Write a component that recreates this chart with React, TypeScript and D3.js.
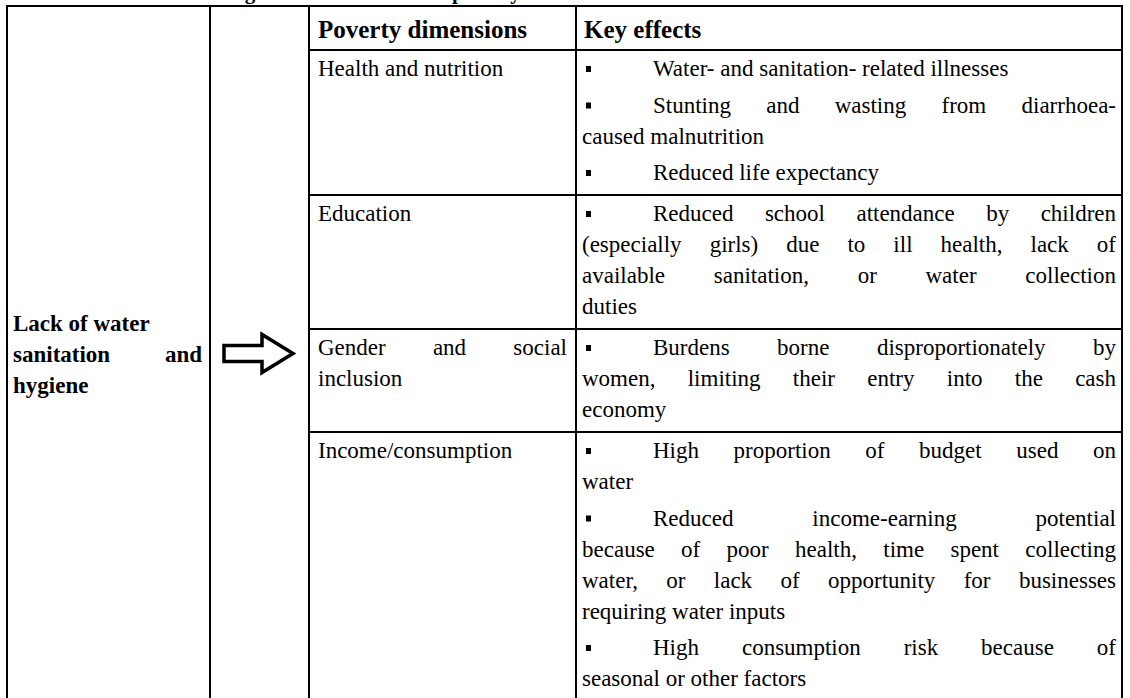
import * as d3 from 'd3';

const width = 1130;
const height = 698;

// table content
const title = 'Linkages between water and poverty';
const leftLabel = ['Lack of water', 'sanitation and', 'hygiene'];
const leftJustified = [false, true, false];
const headers = ['Poverty dimensions', 'Key effects'];
const dimensions = [
  ['Health and nutrition'],
  ['Education'],
  ['Gender and social', 'inclusion'],
  ['Income/consumption'],
];
const dimensionJustified = [[false], [false], [true, false], [false]];
const effects = [
  [
    ['Water- and sanitation- related illnesses'],
    ['Stunting and wasting from diarrhoea-', 'caused malnutrition'],
    ['Reduced life expectancy'],
  ],
  [
    [
      'Reduced school attendance by children',
      '(especially girls) due to ill health, lack of',
      'available sanitation, or water collection',
      'duties',
    ],
  ],
  [['Burdens borne disproportionately by', 'women, limiting their entry into the cash', 'economy']],
  [
    ['High proportion of budget used on', 'water'],
    [
      'Reduced income-earning potential',
      'because of poor health, time spent collecting',
      'water, or lack of opportunity for businesses',
      'requiring water inputs',
    ],
    ['High consumption risk because of', 'seasonal or other factors'],
  ],
];

const FONT = '"Liberation Serif", "Times New Roman", serif';
const fs = 23;
const headFs = 25;
const lh = 31;
const padY = 10;
const gap = 5.5;
const baseOff = 26;
const colX = [7, 210, 309, 576, 1122];
const tableTop = 6;
const headerH = 44;
const tableBottom = 701;

const ctx = document.createElement('canvas').getContext('2d')!;
function textWidth(t: string, weight = 'normal', size = fs) {
  ctx.font = `${weight} ${size}px ${FONT}`;
  return ctx.measureText(t).width;
}
// word spacing so the line fills the given width (Word style justify)
function spread(t: string, w: number, weight = 'normal', size = fs) {
  const spaces = (t.match(/ /g) || []).length;
  if (!spaces) return 0;
  return (w - textWidth(t, weight, size)) / spaces;
}

export default function App() {
  const rowH = effects.map(
    (b) => padY + d3.sum(b, (p) => p.length) * lh + (b.length - 1) * gap
  );
  const rowTop = [tableTop + headerH, ...d3.cumsum(rowH).map((v) => tableTop + headerH + v)];

  const lines: JSX.Element[] = [];
  const texts: JSX.Element[] = [];
  const bullets: JSX.Element[] = [];

  // header
  const headY = tableTop + baseOff + 6;
  texts.push(
    <text key="h0" x={colX[2] + 9} y={headY} fontWeight="bold" fontSize={headFs}>
      {headers[0]}
    </text>,
    <text key="h1" x={colX[3] + 8} y={headY} fontWeight="bold" fontSize={headFs}>
      {headers[1]}
    </text>
  );

  effects.forEach((bl, r) => {
    const top = rowTop[r];
    dimensions[r].forEach((t, i) => {
      const ws = dimensionJustified[r][i] ? spread(t, colX[3] - colX[2] - 18) : 0;
      texts.push(
        <text key={`d${r}-${i}`} x={colX[2] + 9} y={top + baseOff + i * lh} style={{ wordSpacing: `${ws}px` }}>
          {t}
        </text>
      );
    });
    let y = top + baseOff;
    bl.forEach((para, b) => {
      if (b > 0) y += gap;
      bullets.push(
        <rect key={`b${r}-${b}`} x={colX[3] + 10} y={y - 10} width={5} height={6} fill="#000" />
      );
      para.forEach((t, i) => {
        const x0 = i === 0 ? colX[3] + 77 : colX[3] + 6;
        const last = i === para.length - 1;
        const ws = last ? 0 : spread(t, colX[4] - 6 - x0);
        texts.push(
          <text key={`e${r}-${b}-${i}`} x={x0} y={y} style={{ wordSpacing: `${ws}px` }}>
            {t}
          </text>
        );
        y += lh;
      });
    });
    lines.push(
      <line key={`r${r}`} x1={colX[2]} x2={colX[4]} y1={top} y2={top} />
    );
  });

  const mid = (tableTop + tableBottom) / 2;
  leftLabel.forEach((t, i) => {
    const ws = leftJustified[i] ? spread(t, colX[1] - colX[0] - 14, 'bold') : 0;
    texts.push(
      <text
        key={`l${i}`}
        x={colX[0] + 6}
        y={mid + 8 + (i - 1) * lh}
        fontWeight="bold"
        style={{ wordSpacing: `${ws}px` }}
      >
        {t}
      </text>
    );
  });

  const ax0 = 224, ax1 = 262, ax2 = 293;
  const arrow = d3.line()([
    [ax0, mid - 8],
    [ax1, mid - 8],
    [ax1, mid - 19],
    [ax2, mid],
    [ax1, mid + 19],
    [ax1, mid + 8],
    [ax0, mid + 8],
  ]) + 'Z';

  return (
    <svg
      width={width}
      height={height}
      style={{ position: 'absolute', left: 0, top: 0, background: '#fff' }}
      fontFamily={FONT}
      fontSize={fs}
    >
      {/* caption above the table, only its descenders show */}
      <text x={191} y={-1.2} fontWeight="bold" fontSize={21}>
        {title}
      </text>
      <g stroke="#000" strokeWidth={2}>
        <rect x={colX[0]} y={tableTop} width={colX[4] - colX[0]} height={tableBottom - tableTop} fill="none" />
        {colX.slice(1, 4).map((x) => (
          <line key={x} x1={x} x2={x} y1={tableTop} y2={tableBottom} />
        ))}
        {lines}
      </g>
      <path d={arrow} fill="none" stroke="#000" strokeWidth={3.5} strokeLinejoin="miter" />
      {bullets}
      <g fill="#000">{texts}</g>
    </svg>
  );
}
